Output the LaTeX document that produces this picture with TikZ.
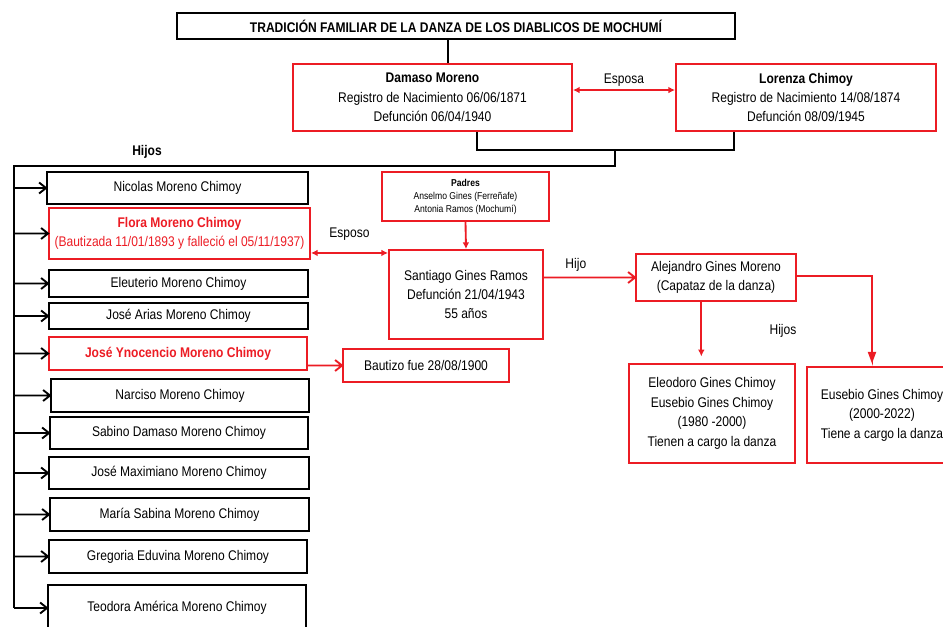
\documentclass[tikz,border=0pt]{standalone}
\usepackage{fontspec}
\setmainfont{Liberation Sans}[FakeStretch=0.86]
\usepackage{tikz}
\usetikzlibrary{arrows.meta,calc}
\definecolor{rojo}{RGB}{236,28,36}
\tikzset{
  wh/.style 2 args={minimum width=#1*0.75pt, minimum height=#2*0.75pt},
  caja/.style={draw=black, line width=1.4pt, inner sep=0pt, align=center,
    font=\fontsize{10.5}{14.6}\selectfont},
  cajaroja/.style={caja, draw=rojo},
  lazo/.style={draw=black, line width=1.4pt, line join=miter},
  lazorojo/.style={draw=rojo, line width=1.4pt, line join=miter},
  punta/.style={lazorojo, -{Latex[length=5pt,width=5pt]}},
  etiqueta/.style={inner sep=1pt, font=\fontsize{10.5}{12}\selectfont}
}

\begin{document}
\begin{tikzpicture}[x=0.75pt, y=-0.75pt]
\useasboundingbox (0,0) rectangle (943,627);

\node[caja, wh={558}{26}, font=\fontsize{10.5}{12}\bfseries] (titulo) at (456,26)
  {TRADICIÓN FAMILIAR DE LA DANZA DE LOS DIABLICOS DE MOCHUMÍ};
\node[cajaroja, wh={279}{67}] (damaso) at (432.5,97.5)
  {\textbf{Damaso Moreno}\\Registro de Nacimiento 06/06/1871\\Defunción 06/04/1940};
\node[cajaroja, wh={260}{67}] (lorenza) at (806,97.5)
  {\textbf{Lorenza Chimoy}\\Registro de Nacimiento 14/08/1874\\Defunción 08/09/1945};

\draw[lazo] ([xshift=-6pt]titulo.south) -- ([xshift=-6pt]titulo.south |- damaso.north);
\draw[lazorojo, {Latex[length=5pt,width=5pt]}-{Latex[length=5pt,width=5pt]}]
  ([yshift=5.6pt]damaso.east) -- ([yshift=5.6pt]lorenza.west)
  node[etiqueta, midway, above=1pt] {Esposa};

\coordinate (union) at (615,150);
\coordinate (tronco) at (14,166);
\draw[lazo] ([xshift=33.4pt]damaso.south) |- (union) -| ([xshift=-54pt]lorenza.south);
\node[etiqueta, font=\fontsize{10.5}{12}\bfseries] (hijos) at (147,152) {Hijos};

% hijos de Damaso y Lorenza
\foreach \n/\cx/\cy/\w/\h/\t in {
  nicolas/177.5/188/261/32/Nicolas Moreno Chimoy,
  eleuterio/178.5/283.5/259/27/Eleuterio Moreno Chimoy,
  josearias/178.5/316/259/26/José Arias Moreno Chimoy,
  narciso/180/395.5/258/33/Narciso Moreno Chimoy,
  sabino/179/433/258/32/Sabino Damaso Moreno Chimoy,
  maximiano/179/473/260/32/José Maximiano Moreno Chimoy,
  mariasabina/179.5/514.5/259/33/María Sabina Moreno Chimoy,
  gregoria/178/556.5/258/33/Gregoria Eduvina Moreno Chimoy,
  teodora/177/608/258/46/Teodora América Moreno Chimoy}
  \node[caja, wh={\w}{\h}] (\n) at (\cx,\cy) {\t};
\node[cajaroja, wh={261}{51}, text=rojo] (flora) at (179.5,233.5)
  {\textbf{Flora Moreno Chimoy}\\(Bautizada 11/01/1893 y falleció el 05/11/1937)};
\node[cajaroja, wh={258}{33}, text=rojo, font=\fontsize{10.5}{12}\bfseries] (ynocencio) at (178,353.5)
  {José Ynocencio Moreno Chimoy};
\node[cajaroja, wh={166}{33}] (bautizo) at (426,365.5) {Bautizo fue 28/08/1900};

\draw[lazo] (union) |- (tronco) -- (tronco |- teodora.west);
\foreach \n in {nicolas,flora,eleuterio,josearias,ynocencio,narciso,sabino,maximiano,mariasabina,gregoria,teodora}
  \draw[lazo] (tronco |- \n.west) -- (\n.west) ++(-7,-5.5) -- (\n.west) -- ++(-7,5.5);
\draw[lazorojo] (ynocencio.east |- bautizo.west) -- (bautizo.west) ++(-7,-5.5) -- (bautizo.west) -- ++(-7,5.5);

% rama de Santiago Gines
\node[cajaroja, wh={167}{49}, font=\fontsize{7.5}{9.75}\selectfont] (padres) at (465.5,196.5)
  {\textbf{Padres}\\Anselmo Gines (Ferreñafe)\\Antonia Ramos (Mochumí)};
\node[cajaroja, wh={154}{89}] (santiago) at (466,294.5)
  {Santiago Gines Ramos\\Defunción 21/04/1943\\55 años};
\node[cajaroja, wh={160}{47}] (alejandro) at (716,277.5)
  {Alejandro Gines Moreno\\(Capataz de la danza)};
\node[cajaroja, wh={166}{99}] (eleodoro) at (712,413.5)
  {Eleodoro Gines Chimoy\\Eusebio Gines Chimoy\\(1980 -2000)\\Tienen a cargo la danza};
\node[cajaroja, wh={150}{96}] (eusebio) at (882,415)
  {Eusebio Gines Chimoy\\(2000-2022)\\Tiene a cargo la danza};

\draw[lazorojo, {Latex[length=5pt,width=5pt]}-{Latex[length=5pt,width=5pt]}]
  ([yshift=-14.6pt]flora.east) -- ([yshift=-14.6pt]flora.east -| santiago.west)
  node[etiqueta, midway, above=8pt] {Esposo};
\draw[punta] (padres.south) -- (santiago.north);
\draw[lazorojo] (santiago.east |- alejandro.west) -- (alejandro.west)
  node[etiqueta, pos=0.35, above=3pt] {Hijo}
  ++(-7,-5.5) -- (alejandro.west) -- ++(-7,5.5);
\draw[punta, shorten >=5pt] ([xshift=-11pt]alejandro.south) -- ([xshift=-11pt]alejandro.south |- eleodoro.north);
\path ([xshift=-7.5pt,yshift=4pt]eusebio.north) coordinate (eusebiotop);
\draw[lazorojo] ([yshift=1.1pt]alejandro.east) -| (eusebiotop) -- ++(-3,-8) -- ++(6,0) -- (eusebiotop);
\fill[rojo] (eusebiotop) -- ++(-3,-8) -- ++(6,0) -- cycle;
\node[etiqueta] (hijosb) at (783,331) {Hijos};
\end{tikzpicture}
\end{document}
